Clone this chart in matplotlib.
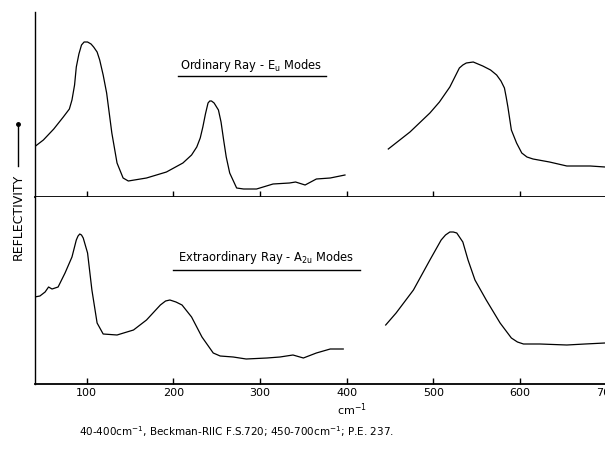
import numpy as np
import matplotlib.pyplot as plt
from matplotlib.lines import Line2D

# ordinary ray (E_u modes), far-IR part 40-400 cm-1
ord_far_wn = [38, 50, 62, 73, 80, 83, 86, 88, 91, 94, 97, 101, 105, 108, 112, 115, 119, 123,
              129, 135, 142, 148, 169, 192, 211, 221, 227, 231, 234, 237, 240, 242, 244, 247,
              252, 255, 258, 261, 265, 273, 281, 296, 315, 334, 341, 352, 365, 381, 398]
ord_far_r = [49, 57, 68, 80, 88, 97, 112, 130, 143, 152, 155, 155, 153, 150, 145, 137, 122, 104,
             64, 34, 19, 16, 19, 25, 34, 42, 50, 59, 70, 83, 94, 96, 96, 94,
             87, 75, 57, 40, 24, 9, 8, 8, 13, 14, 15, 12, 18, 19, 22]
# ordinary ray, mid-IR part 450-700 cm-1
ord_mid_wn = [448, 473, 496, 507, 519, 530, 534, 538, 546, 557, 566, 573, 578, 582, 584, 586,
              590, 596, 602, 608, 615, 634, 654, 681, 698]
ord_mid_r = [48, 65, 84, 95, 110, 129, 132, 134, 135, 131, 127, 122, 116, 109, 100, 90,
             67, 54, 44, 40, 38, 35, 31, 31, 30]

# extraordinary ray (A2u modes)
ext_far_wn = [40, 46, 52, 56, 60, 67, 75, 83, 88, 90, 92, 94, 96, 101, 106, 112, 119, 135, 154,
              169, 185, 191, 196, 203, 210, 221, 233, 246, 254, 269, 284, 308, 323, 338, 350,
              365, 381, 396]
ext_far_r = [87, 88, 92, 97, 95, 97, 111, 127, 144, 148, 150, 149, 146, 131, 94, 61, 50, 49, 54,
             64, 79, 83, 84, 82, 79, 67, 47, 31, 28, 27, 25, 26, 27, 29, 26,
             31, 35, 35]
ext_mid_wn = [445, 457, 477, 496, 509, 514, 519, 523, 527, 534, 540, 548, 561, 577, 590, 597,
              604, 623, 654, 675, 698]
ext_mid_r = [59, 71, 94, 124, 144, 149, 152, 152, 151, 142, 124, 104, 84, 61, 46, 42,
             40, 40, 39, 40, 41]

xticks = [100, 200, 300, 400, 500, 600, 700]

W, H = 605, 451
fig = plt.figure(figsize=(W / 100, H / 100), dpi=100)

left = 34.7 / W
width = (606.7 - 34.7) / W
ax1 = fig.add_axes([left, (H - 197) / H, width, 185 / H])
ax2 = fig.add_axes([left, (H - 384) / H, width, 187 / H])

for ax in (ax1, ax2):
    ax.set_xlim(40, 700)
    ax.spines['top'].set_visible(False)
    ax.spines['right'].set_visible(False)
    ax.spines['left'].set_linewidth(1.0)
    ax.spines['bottom'].set_linewidth(1.3)
    ax.set_xticks(xticks)
    ax.tick_params(axis='x', direction='in', length=4, width=1.0)
    ax.set_yticks([])

ax1.set_ylim(0, 185)
ax2.set_ylim(0, 187)
ax1.tick_params(axis='x', labelbottom=False)
ax2.tick_params(axis='x', labelsize=8, pad=3)

lc = 'black'
ax1.plot(ord_far_wn, ord_far_r, color=lc, lw=0.9)
ax1.plot(ord_mid_wn, ord_mid_r, color=lc, lw=0.9)
ax2.plot(ext_far_wn, ext_far_r, color=lc, lw=0.9)
ax2.plot(ext_mid_wn, ext_mid_r, color=lc, lw=0.9)

# panel titles with underlines
fig.text(251 / W, 1 - 66 / H, r'Ordinary Ray - E$_\mathregular{u}$ Modes',
         ha='center', va='center', fontsize=8.3)
fig.add_artist(Line2D([178 / W, 326 / W], [1 - 76 / H, 1 - 76 / H], color=lc, lw=1.0))
fig.text(266 / W, 1 - 258 / H, r'Extraordinary Ray - A$_\mathregular{2u}$ Modes',
         ha='center', va='center', fontsize=8.3)
fig.add_artist(Line2D([173 / W, 360 / W], [1 - 270 / H, 1 - 270 / H], color=lc, lw=1.0))

# y label with arrow
fig.text(18 / W, 1 - 217 / H, 'REFLECTIVITY', rotation=90, ha='center', va='center',
         fontsize=9)
fig.add_artist(Line2D([18 / W, 18 / W], [1 - 166 / H, 1 - 124 / H], color=lc, lw=1.0))
fig.add_artist(Line2D([18 / W], [1 - 124 / H], marker='o', ms=2.5, color=lc))

fig.text(352 / W, 1 - 410 / H, r'cm$^{-1}$', ha='center', va='center', fontsize=8)
fig.text(79 / W, 1 - 432 / H,
         r'40-400cm$^{-1}$, Beckman-RIIC F.S.720; 450-700cm$^{-1}$; P.E. 237.',
         ha='left', va='center', fontsize=7.5)

fig.savefig('out.png', dpi=100)
